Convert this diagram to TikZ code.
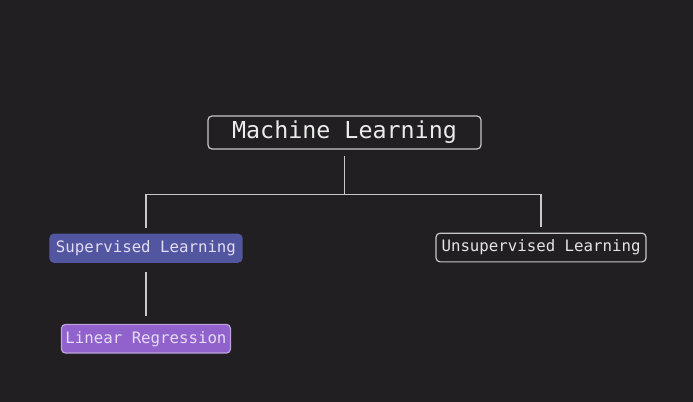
\documentclass[tikz,border=0pt]{standalone}
\usepackage{fontspec}
\setmonofont{DejaVu Sans Mono}
\usetikzlibrary{positioning}
\usepackage{xcolor}
\definecolor{bgdark}{RGB}{33,31,33}
\definecolor{boxline}{RGB}{200,200,204}
\definecolor{suplue}{RGB}{82,86,160}
\definecolor{linpurple}{RGB}{146,98,204}
\definecolor{lavtext}{RGB}{228,220,244}
\tikzset{
  branch/.style={draw, boxline, line width=0.9pt},
}

\begin{document}
\begin{tikzpicture}[x=0.75pt,y=-0.75pt,
            box/.style={rectangle,rounded corners=3pt,draw=boxline,line width=0.9pt,font=\ttfamily,inner sep=0pt},
            topbox/.style={box,fill=bgdark,text=white!92!black,font=\ttfamily\fontsize{17.5}{20}\selectfont,minimum width=204.75pt,minimum height=24.75pt},
            leaf/.style={box,text=lavtext,font=\ttfamily\fontsize{11.8}{14}\selectfont,minimum height=21.5pt}]
            \fill[bgdark] (0,0) rectangle (693,402);
            \useasboundingbox (0,0) rectangle (693,402);

            \node (ml)[topbox] at (344.5,132.5) {Machine Learning};
            \node (sup)[leaf, below=63pt of ml, xshift=-148.9pt, fill=suplue, draw=suplue, minimum width=144pt, minimum height=21pt] {Supervised Learning};
            \node (unsup)[leaf, below=62.25pt of ml, xshift=147.4pt, fill=bgdark, text=white!90!black, minimum width=157.5pt] {Unsupervised Learning};
            \node (lin)[leaf, below=45.75pt of sup, fill=linpurple, draw=linpurple!60!white, minimum width=126.75pt] {Linear Regression};

            \draw [branch, shorten <=5pt, shorten >=4.5pt] (ml.south) -- ++(0,45) -| (sup.north);
            \draw [branch, shorten <=5pt, shorten >=4.5pt] (ml.south) -- ++(0,45) -| (unsup.north);
            \draw [branch, shorten <=6.75pt, shorten >=6pt] (sup.south) -- (lin.north);
         \end{tikzpicture}
\end{document}
